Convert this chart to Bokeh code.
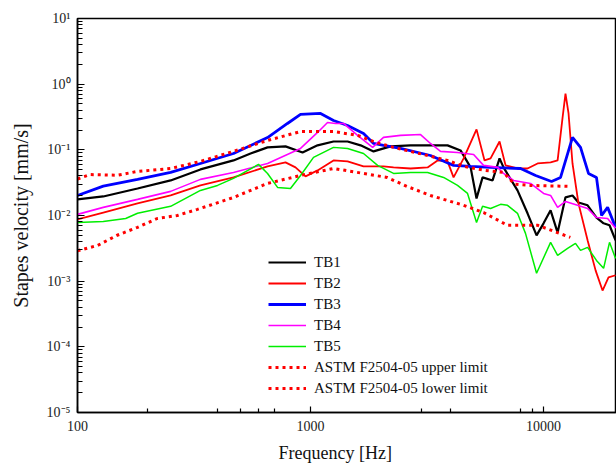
from bokeh.plotting import figure
from bokeh.models import FixedTicker, Legend, LegendItem, Title, Range1d
from bokeh.embed import file_html
from bokeh.resources import INLINE

# ---- data ----
tb1_f = [100, 129, 181, 251, 337, 467, 553, 654, 781, 924, 1072, 1255, 1442, 1640, 1864, 2205, 2686, 3271, 3873,
         4404, 4864, 5157, 5474, 6043, 6474, 6733, 7730, 8535, 9333, 10000, 10720, 11490, 12420, 13310, 14120,
         15450, 16870, 18100, 19190, 20370]
tb1_v = [0.0176, 0.0195, 0.0258, 0.0342, 0.0503, 0.069, 0.088, 0.109, 0.113, 0.091, 0.117, 0.134, 0.134, 0.117,
         0.0946, 0.113, 0.117, 0.117, 0.117, 0.098, 0.054, 0.0182, 0.038, 0.0342, 0.074, 0.054, 0.0241, 0.0108,
         0.00498, 0.0076, 0.012, 0.0055, 0.0189, 0.0202, 0.0158, 0.0143, 0.0093, 0.0076, 0.0071, 0.0042]

tb2_f = [100, 129, 181, 251, 337, 467, 654, 781, 862, 952, 1072, 1255, 1442, 1688, 2057, 2271, 2686, 3179, 3509,
         3873, 4110, 4539, 5157, 5581, 5924, 6474, 6871, 7730, 8535, 9428, 10720, 11490, 12070, 12420, 12800,
         13310, 14120, 15450, 16720, 17910, 19000, 20370]
tb2_v = [0.0087, 0.0111, 0.0153, 0.0202, 0.0287, 0.038, 0.056, 0.0643, 0.054, 0.0394, 0.0486, 0.069, 0.0666,
         0.056, 0.056, 0.054, 0.052, 0.054, 0.069, 0.0666, 0.038, 0.074, 0.205, 0.069, 0.074, 0.134, 0.058, 0.052,
         0.052, 0.062, 0.0643, 0.069, 0.311, 0.72, 0.358, 0.062, 0.0153, 0.0042, 0.00146, 0.00072, 0.00114, 0.00123]

tb3_f = [100, 129, 181, 251, 337, 467, 654, 796, 906, 1104, 1255, 1442, 1688, 1864, 2057, 2433, 3271, 4110, 4864,
         5924, 7968, 9245, 10820, 11830, 13310, 14410, 15590, 16870, 17740, 18830, 20370]
tb3_v = [0.0202, 0.028, 0.0355, 0.0453, 0.062, 0.088, 0.154, 0.252, 0.346, 0.358, 0.28, 0.235, 0.178, 0.125,
         0.117, 0.105, 0.082, 0.058, 0.056, 0.054, 0.052, 0.0407, 0.033, 0.038, 0.155, 0.109, 0.0437, 0.038,
         0.010, 0.0133, 0.0066]

tb4_f = [100, 129, 181, 251, 337, 467, 654, 906, 1072, 1183, 1281, 1386, 1592, 1847, 2057, 2433, 2966, 3271, 3614,
         4274, 5010, 5526, 6351, 6733, 7437, 8796, 10000, 10720, 11490, 12420, 13990, 15450, 16870, 18830, 20370]
tb4_v = [0.0104, 0.0133, 0.0176, 0.0233, 0.0355, 0.0453, 0.062, 0.105, 0.184, 0.261, 0.252, 0.252, 0.166, 0.109,
         0.155, 0.166, 0.171, 0.125, 0.0946, 0.091, 0.085, 0.058, 0.054, 0.0437, 0.0342, 0.0308, 0.0217, 0.0202,
         0.0133, 0.0164, 0.0143, 0.0128, 0.0093, 0.0090, 0.0064]

tb5_f = [100, 129, 161, 181, 251, 337, 399, 467, 598, 654, 722, 820, 906, 1030, 1255, 1442, 1688, 1940, 2271, 2686,
         3179, 3724, 4274, 4718, 5157, 5474, 5924, 6538, 7000, 7730, 8366, 9333, 10720, 11490, 12680, 13710,
         14410, 15450, 16870, 18100, 19190, 20370]
tb5_v = [0.00785, 0.0081, 0.0090, 0.0108, 0.0138, 0.0241, 0.0287, 0.0367, 0.060, 0.0437, 0.0268, 0.0258, 0.0407,
         0.0766, 0.109, 0.105, 0.088, 0.058, 0.0437, 0.0453, 0.0453, 0.038, 0.0287, 0.0217, 0.00785, 0.0138,
         0.0128, 0.0148, 0.0143, 0.0108, 0.00534, 0.00132, 0.0039, 0.00247, 0.00316, 0.00376, 0.00294, 0.00327,
         0.00207, 0.00157, 0.0039, 0.00222]

upper_f = [100, 113, 148, 181, 251, 337, 467, 654, 906, 1255, 1592, 1904, 2271, 2686, 3179, 3873, 4539, 5627,
           6733, 7500, 8796, 13030]
upper_v = [0.036, 0.042, 0.041, 0.0469, 0.052, 0.0666, 0.0946, 0.139, 0.19, 0.19, 0.166, 0.13, 0.109, 0.0946,
           0.082, 0.069, 0.056, 0.0486, 0.0453, 0.030, 0.0287, 0.0277]

lower_f = [100, 122, 148, 181, 220, 268, 327, 467, 654, 906, 1255, 1688, 2131, 2598, 3271, 4539, 5526, 7000,
           9428, 13030]
lower_v = [0.0029, 0.0035, 0.005, 0.0066, 0.009, 0.0100, 0.0124, 0.0188, 0.0308, 0.0407, 0.052, 0.0437, 0.038,
           0.0277, 0.0202, 0.0143, 0.0111, 0.0071, 0.0071, 0.00464]

names = ["TB1", "TB2", "TB3", "TB4", "TB5",
         "ASTM F2504-05 upper limit", "ASTM F2504-05 lower limit"]

x_major = [100, 1000, 10000]
x_minor = [200, 400, 500, 600, 700, 3000, 4000, 8000, 9000]
x_labels = ["100", "1000", "10000"]
y_major = [1e-5, 1e-4, 1e-3, 1e-2, 1e-1, 1.0, 10.0]
y_labels = ["10\u207b\u2075", "10\u207b\u2074", "10\u207b\u00b3", "10\u207b\u00b2", "10\u207b\u00b9",
            "10\u2070", "10\u00b9"]
x_title = "Frequency [Hz]"
y_title = "Stapes velocity [mm/s]"

FONT = "Liberation Serif"

p = figure(width=616, height=472, x_axis_type="log", y_axis_type="log",
           x_range=Range1d(100, 20560), y_range=Range1d(1e-5, 10),
           output_backend="svg", toolbar_location=None,
           min_border_left=77, min_border_right=0, min_border_top=18, min_border_bottom=60)

p.xgrid.visible = False
p.ygrid.visible = False
p.outline_line_color = "black"
p.outline_line_width = 1.5
p.background_fill_color = "white"
p.border_fill_color = "white"

y_minor = []
for d in y_major[:-1]:
    for k in range(2, 10):
        y_minor.append(d * k)

p.xaxis.ticker = FixedTicker(ticks=x_major, minor_ticks=x_minor)
p.yaxis.ticker = FixedTicker(ticks=y_major, minor_ticks=y_minor)
p.xaxis.major_label_overrides = {v: s for v, s in zip(x_major, x_labels)}
p.yaxis.major_label_overrides = {v: s for v, s in zip(y_major, y_labels)}

for ax in (p.xaxis, p.yaxis):
    ax.axis_line_color = "black"
    ax.axis_line_width = 1.5
    ax.major_tick_line_color = "black"
    ax.minor_tick_line_color = "black"
    ax.major_tick_line_width = 1.2
    ax.minor_tick_line_width = 1.2
    ax.major_tick_out = 0
    ax.minor_tick_out = 0
    ax.major_label_text_font = FONT
    ax.major_label_text_font_size = "14px"
    ax.major_label_text_color = "#222222"

p.xaxis.major_tick_in = 6
p.xaxis.minor_tick_in = 4
p.yaxis.major_tick_in = 7
p.yaxis.minor_tick_in = 5
p.xaxis.major_label_standoff = 8
p.yaxis.major_label_standoff = 7

p.yaxis.axis_label = y_title
p.yaxis.axis_label_text_font = FONT
p.yaxis.axis_label_text_font_size = "20px"
p.yaxis.axis_label_text_font_style = "normal"
p.yaxis.axis_label_text_color = "#111111"
p.yaxis.axis_label_standoff = 12

xt = Title(text=x_title, align="left", offset=201, standoff=14, text_font=FONT,
           text_font_size="18px", text_font_style="normal", text_color="#111111")
p.add_layout(xt, "below")

r1 = p.line(tb1_f, tb1_v, line_color="#000000", line_width=2.2)
r2 = p.line(tb2_f, tb2_v, line_color="#ff0000", line_width=1.8)
r3 = p.line(tb3_f, tb3_v, line_color="#0000ff", line_width=2.8)
r4 = p.line(tb4_f, tb4_v, line_color="#ff00ff", line_width=1.6)
r5 = p.line(tb5_f, tb5_v, line_color="#00ee00", line_width=1.5)
r6 = p.line(upper_f, upper_v, line_color="#ff0000", line_width=3, line_dash="3 4")
r7 = p.line(lower_f, lower_v, line_color="#ff0000", line_width=3, line_dash="3 4")

items = [LegendItem(label=n, renderers=[r]) for n, r in zip(names, [r1, r2, r3, r4, r5, r6, r7])]
legend = Legend(items=items, location=(191, 14))
legend.border_line_alpha = 0
legend.background_fill_alpha = 0
legend.padding = 0
legend.margin = 0
legend.spacing = 1
legend.glyph_width = 38
legend.glyph_height = 20
legend.label_height = 20
legend.label_standoff = 8
legend.label_text_font = FONT
legend.label_text_font_size = "15px"
legend.label_text_color = "#111111"
p.add_layout(legend)

open("out.html", "w").write(file_html(p, INLINE))
